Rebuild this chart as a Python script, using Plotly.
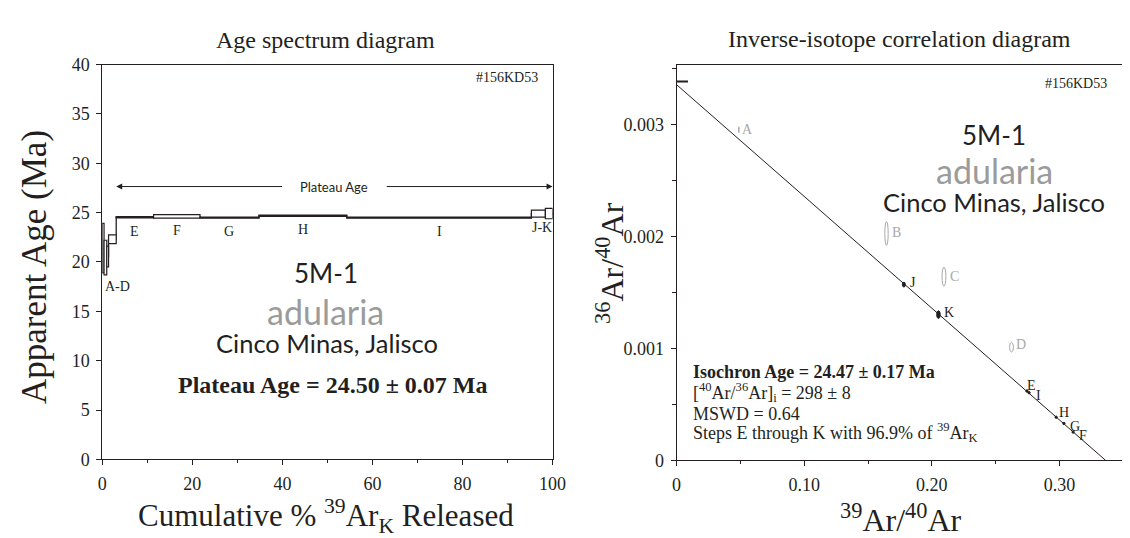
import plotly.graph_objects as go

W, H = 1130, 538
SERIF = "Liberation Serif"
SANS = "Lato"
INK = "#231f20"
GRAY = "#9b9b9b"
LGRAY = "#a8a8a8"

# ---------------- data: age spectrum ----------------
step_labels = ["A", "B", "C", "D", "E", "F", "G", "H", "I", "J", "K"]
step_cum_pct = [0.0, 0.4, 1.0, 1.4, 3.1, 11.4, 21.7, 34.8, 54.3, 95.3, 98.4, 100.0]
step_age = [21.4, 20.45, 20.55, 22.3, 24.53, 24.62, 24.49, 24.68, 24.50, 24.90, 24.90]
step_err = [2.5, 1.75, 1.05, 0.45, 0.06, 0.17, 0.06, 0.07, 0.05, 0.36, 0.52]
plateau_steps = ["E", "F", "G", "H", "I", "J", "K"]
plateau_arrow_age = 27.64
spec_label_groups = ["A-D", "E", "F", "G", "H", "I", "J-K"]

# ---------------- data: inverse isochron ----------------
iso_labels = ["A", "B", "C", "D", "E", "F", "G", "H", "I", "J", "K"]
iso_x = [0.0488, 0.1645, 0.2095, 0.2624, 0.2745, 0.3107, 0.3035, 0.2974, 0.2762, 0.1781, 0.2052]
iso_y = [0.002953, 0.002027, 0.001641, 0.001011, 0.000620, 0.000253, 0.000330, 0.000386, 0.000605, 0.001570, 0.001302]
iso_sx = [0.0002, 0.0013, 0.0015, 0.0015, 0.0009, 0.0009, 0.0009, 0.0009, 0.0009, 0.00116, 0.0014]
iso_sy = [0.000026, 0.000107, 0.000086, 0.000043, 0.0000105, 0.0000105, 0.0000105, 0.0000105, 0.0000105, 0.0000215, 0.000034]
iso_included = [False, False, False, False, True, True, True, True, True, True, True]
isochron_x = [0.0, 0.3362]
isochron_y = [1 / 298.0, 0.0]
atm_ratio = 295.5

x_ticks_spec = [0, 20, 40, 60, 80, 100]
y_ticks_spec = [0, 5, 10, 15, 20, 25, 30, 35, 40]
x_ticks_iso = [0, 0.1, 0.2, 0.3]
x_ticktext_iso = ["0", "0.10", "0.20", "0.30"]
y_ticks_iso = [0, 0.001, 0.002, 0.003]
y_ticktext_iso = ["0", "0.001", "0.002", "0.003"]


def fx(p):
    return p / W


def fy(p):
    return 1 - p / H


fig = go.Figure()

# staircase connectors
stair_x = step_cum_pct[:-1] + [step_cum_pct[-1]]
stair_y = step_age + [step_age[-1]]
fig.add_trace(go.Scatter(x=stair_x, y=stair_y, mode="lines", line=dict(color=INK, width=1.3, shape="hv"),
                         xaxis="x", yaxis="y", showlegend=False, hoverinfo="skip"))

shapes = []
for i in range(len(step_labels)):
    shapes.append(dict(type="rect", xref="x", yref="y",
                       x0=step_cum_pct[i], x1=step_cum_pct[i + 1],
                       y0=step_age[i] - step_err[i], y1=step_age[i] + step_err[i],
                       line=dict(color=INK, width=1.2), fillcolor="white", layer="above"))

# isochron line
fig.add_trace(go.Scatter(x=isochron_x, y=isochron_y, mode="lines", line=dict(color=INK, width=1),
                         xaxis="x2", yaxis="y2", showlegend=False, hoverinfo="skip"))

for lab, x, y, sx, sy, inc in zip(iso_labels, iso_x, iso_y, iso_sx, iso_sy, iso_included):
    if inc:
        shapes.append(dict(type="circle", xref="x2", yref="y2", x0=x - sx, x1=x + sx, y0=y - sy, y1=y + sy,
                           line=dict(color=INK, width=1), fillcolor=INK, layer="above"))
    else:
        shapes.append(dict(type="circle", xref="x2", yref="y2", x0=x - sx, x1=x + sx, y0=y - sy, y1=y + sy,
                           line=dict(color=LGRAY, width=1), fillcolor="rgba(0,0,0,0)", layer="above"))

# atmospheric ratio dash on y axis
shapes.append(dict(type="line", xref="x2", yref="y2", x0=0, x1=0.009, y0=1 / atm_ratio, y1=1 / atm_ratio,
                   line=dict(color=INK, width=2), layer="above"))

ann = []


def txt(text, x, y, size, font=SERIF, color=INK, xanchor="center", yanchor="middle", angle=0):
    ann.append(dict(text=text, x=fx(x), y=fy(y), xref="paper", yref="paper", showarrow=False,
                    xanchor=xanchor, yanchor=yanchor, textangle=angle,
                    font=dict(family=font, size=size, color=color)))


# titles
txt("Age spectrum diagram", 318, 23, 24)
txt("Inverse-isotope correlation diagram", 901, 22, 24)
txt("#156KD53", 536, 62, 14, xanchor="right")
txt("#156KD53", 1114, 68, 14, xanchor="right")

# axis titles
txt("Cumulative % <sup>39</sup>Ar<sub>K</sub> Released", 318, 517, 31)
txt("Apparent Age (Ma)", 22, 259, 35, angle=-90)
txt("<sup>39</sup>Ar/<sup>40</sup>Ar", 902, 519, 32)
txt("<sup>36</sup>Ar/<sup>40</sup>Ar", 606, 254, 32, angle=-90)

# left sample text
txt("5M-1", 318, 265, 26, font=SANS)
txt("adularia", 318, 305, 34, font=SANS, color=GRAY)
txt("Cinco Minas, Jalisco", 319, 338, 25.5, font=SANS)
txt("<b>Plateau Age = 24.50 ± 0.07 Ma</b>", 325, 381, 24)

# right sample text
txt("5M-1", 997, 122, 26, font=SANS)
txt("adularia", 997, 158, 34, font=SANS, color=GRAY)
txt("Cinco Minas, Jalisco", 997, 191, 25.5, font=SANS)

# isochron results block
txt("<b>Isochron Age = 24.47 ± 0.17 Ma</b>", 689, 368, 18, xanchor="left")
txt("[<sup>40</sup>Ar/<sup>36</sup>Ar]<sub>i</sub> = 298 ± 8", 689, 389, 18, xanchor="left")
txt("MSWD = 0.64", 689, 411, 18, xanchor="left")
txt("Steps E through K with 96.9% of <sup>39</sup>Ar<sub>K</sub>", 689, 431, 18, xanchor="left")

# plateau arrow
pstart = step_cum_pct[step_labels.index(plateau_steps[0])]
pend = step_cum_pct[step_labels.index(plateau_steps[-1]) + 1]
pmid = (pstart + pend) / 2
for head, tail in ((pstart, pmid - 11.3), (pend, pmid + 11.3)):
    ann.append(dict(x=head, y=plateau_arrow_age, ax=tail, ay=plateau_arrow_age, xref="x", yref="y",
                    axref="x", ayref="y", text="", showarrow=True, arrowhead=2, arrowsize=1.2,
                    arrowwidth=1, arrowcolor=INK))
ann.append(dict(x=pmid, y=plateau_arrow_age, xref="x", yref="y", text="Plateau Age", showarrow=False,
                font=dict(family=SANS, size=13, color=INK)))

# step labels (spectrum)
for g in spec_label_groups:
    parts = g.split("-")
    i0 = step_labels.index(parts[0])
    i1 = step_labels.index(parts[-1])
    x0, x1 = step_cum_pct[i0], step_cum_pct[i1 + 1]
    if g == "A-D":
        ann.append(dict(x=x0, y=min(a - e for a, e in zip(step_age[i0:i1 + 1], step_err[i0:i1 + 1])),
                        xref="x", yref="y", text=g, showarrow=False, xanchor="left", yanchor="top",
                        xshift=1, yshift=-2, font=dict(family=SERIF, size=14, color=INK)))
    else:
        ann.append(dict(x=(x0 + x1) / 2, y=step_age[i0], xref="x", yref="y", text=g, showarrow=False,
                        yanchor="middle", yshift=-14, font=dict(family=SERIF, size=14, color=INK)))

# isochron point labels
iso_label_shift = {"A": (9, 0), "B": (10, 1), "C": (11, 0), "D": (10, 3), "E": (5, 5), "F": (10, -3),
                   "G": (11, -3), "H": (8, 5), "I": (9, -3), "J": (9, 2), "K": (11, 2)}
for lab, x, y, inc in zip(iso_labels, iso_x, iso_y, iso_included):
    dx, dy = iso_label_shift[lab]
    ann.append(dict(x=x, y=y, xref="x2", yref="y2", text=lab, showarrow=False, xshift=dx, yshift=dy,
                    font=dict(family=SERIF, size=14, color=INK if inc else LGRAY)))

axis_common = dict(showline=True, linecolor=INK, linewidth=1, ticks="outside", ticklen=5, tickwidth=1,
                   tickcolor=INK, showgrid=False, zeroline=False,
                   tickfont=dict(family=SERIF, size=18, color=INK))

fig.update_layout(
    width=W, height=H, autosize=False,
    margin=dict(l=0, r=0, t=0, b=0),
    paper_bgcolor="white", plot_bgcolor="white",
    font=dict(family=SERIF, color=INK),
    showlegend=False,
    xaxis=dict(domain=[fx(90.7), fx(548.3)], range=[0, 100], anchor="y", mirror=True,
               tickvals=x_ticks_spec, ticklabelstandoff=3,
               minor=dict(dtick=10, ticks="outside", ticklen=3, tickcolor=INK), **axis_common),
    yaxis=dict(domain=[fy(458.5), fy(48.3)], range=[0, 40], anchor="x", mirror=True,
               tickvals=y_ticks_spec, ticklabelstandoff=3, **axis_common),
    xaxis2=dict(domain=[fx(674.3), 1.0], range=[0, (W - 674.3) / 1297.0], anchor="y2", mirror=True,
                tickvals=x_ticks_iso, ticktext=x_ticktext_iso, ticklabelstandoff=3,
                minor=dict(dtick=0.05, ticks="outside", ticklen=3, tickcolor=INK), **axis_common),
    yaxis2=dict(domain=[fy(459.5), fy(49.3)], range=[0, (459.5 - 49.3) / 116300.0], anchor="x2", mirror=False,
                tickvals=y_ticks_iso, ticktext=y_ticktext_iso, ticklabelstandoff=3,
                minor=dict(dtick=0.0005, ticks="outside", ticklen=4, tickcolor=INK), **axis_common),
    shapes=shapes,
    annotations=ann,
)

fig.write_html("out.html")
